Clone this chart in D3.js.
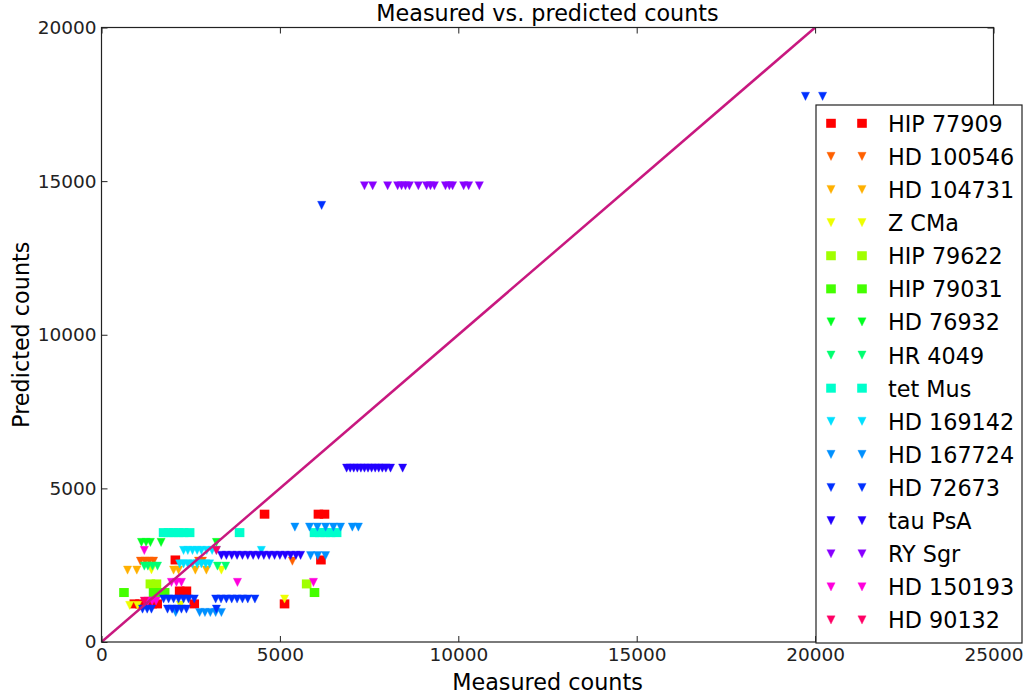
<!DOCTYPE html>
<html>
<head>
<meta charset="utf-8">
<script src="https://cdn.jsdelivr.net/npm/d3@7/dist/d3.min.js"></script>
<style>
  html, body { margin: 0; padding: 0; background: #fff; }
  svg { display: block; font-family: "DejaVu Sans", sans-serif; }
</style>
</head>
<body>
<svg id="chart" width="1033" height="697"></svg>
<script>
// Measured vs. predicted counts per star: [measured, predicted]
const hip77909 = [[4570,4160],[6080,4160],[6250,4160],[2070,2670],[6150,2670],[2190,1660],[2380,1660],
  [920,1240],[1080,1240],[1250,1240],[1420,1240],[1560,1240],[2600,1240],[5130,1240]];
const hd100546 = [[1090,2630],[1220,2630],[1340,2630],[1460,2630],[2720,2630],[2830,2630],[5350,2630]];
const hd104731 = [[730,2340],[990,2340],[2020,2340],[2160,2340],[2630,2340],[2940,2340]];
const zCMa = [[1400,2350],[3360,2340],[790,1190],[1010,1190],[2210,1200],[5130,1400]];
const hip79622 = [[1370,1890],[1540,1890],[5750,1890]];
const hip79031 = [[630,1610],[1460,1610],[1620,1610],[1770,1610],[5970,1610]];
const hd76932 = [[1120,3240],[1250,3240],[1370,3240],[1670,3240],[3220,3240]];
const hr4049 = [[1200,2470],[1300,2470],[1430,2470],[1570,2470],[3250,2470],[3480,2470]];
const tetMus = [[1740,3560],[1880,3560],[2020,3560],[2160,3560],[2300,3560],[2470,3560],[3870,3560],
  [5970,3560],[6120,3560],[6270,3560],[6420,3560],[6590,3560]];
const hd169142 = [[2300,2980],[2420,2980],[2550,2980],[2680,2980],[2800,2980],[2950,2980],[3100,2980],[3220,2980],[4480,2980],
  [2190,2540],[2300,2540],[2420,2540],[2550,2540],[2680,2540],[2800,2540],[2920,2540],[3030,2540]];
const hd167724 = [[5420,3740],[5830,3740],[6050,3740],[6280,3740],[6500,3740],[6700,3740],[7030,3740],[7200,3740],
  [5860,2810],[6060,2810],[6280,2810],
  [2080,960],[2750,960],[2900,960],[3050,960],[3200,960],[3360,960]];
const hd72673 = [[19730,17760],[20210,17760],[6170,14210],
  [1740,1400],[1880,1400],[2020,1400],[2160,1400],[2300,1400],[2440,1400],[2600,1400],
  [3200,1400],[3350,1400],[3500,1400],[3650,1400],[3800,1400],[3950,1400],[4100,1400],[4300,1400],
  [1150,1070],[1280,1070],[1400,1070],[1850,1070],[1980,1070],[2110,1070],[2240,1070],[2380,1070],[3220,1070]];
const tauPsA = [[6870,5660],[6970,5660],[7070,5660],[7170,5660],[7270,5660],[7370,5660],[7470,5660],[7570,5660],
  [7670,5660],[7770,5660],[7870,5660],[7970,5660],[8100,5660],[8440,5660],
  [3360,2820],[3500,2820],[3650,2820],[3800,2820],[3950,2820],[4100,2820],[4250,2820],[4400,2820],
  [4550,2820],[4700,2820],[4850,2820],[5000,2820],[5150,2820],[5300,2820],[5450,2820],[5580,2820]];
const rySgr = [[7370,14850],[7600,14850],[8020,14850],[8300,14850],[8410,14850],[8520,14850],[8630,14850],
  [8880,14850],[9110,14850],[9220,14850],[9330,14850],[9640,14850],[9750,14850],[9840,14850],
  [10150,14850],[10290,14850],[10590,14850]];
const hd150193 = [[1200,2980],[1960,1940],[2100,1940],[2240,1940],[3810,1940],[5940,1940],[1300,1330],[1420,1330],[1530,1330]];
const hd90132 = [[3220,2980],[1200,1330]];

const starNames = ["HIP 77909","HD 100546","HD 104731","Z CMa","HIP 79622","HIP 79031","HD 76932","HR 4049",
  "tet Mus","HD 169142","HD 167724","HD 72673","tau PsA","RY Sgr","HD 150193","HD 90132"];
const starData = [hip77909, hd100546, hd104731, zCMa, hip79622, hip79031, hd76932, hr4049,
  tetMus, hd169142, hd167724, hd72673, tauPsA, rySgr, hd150193, hd90132];
const starMarkers = ["s","v","v","v","s","s","v","v","s","v","v","v","v","v","v","v"];
const starColors = ["#ff0000","#ff6000","#ffb000","#eeff00","#a0ff00","#44ff00","#00ff20","#00ff70",
  "#00ffcc","#00e0ff","#0090ff","#0030ff","#2200ff","#8800ff","#ff00dd","#ff0066"];

const xTicks = [0, 5000, 10000, 15000, 20000, 25000];
const yTicks = [0, 5000, 10000, 15000, 20000];
const oneToOne = [[0, 0], [20000, 20000]];

const svg = d3.select("#chart");
const plotL = 101.5, plotR = 993.5, plotT = 27.5, plotB = 642;

const x = d3.scaleLinear().domain([0, 25000]).range([plotL, plotR]);
const y = d3.scaleLinear().domain([0, 20000]).range([plotB, plotT]);

// clip for marks
svg.append("clipPath").attr("id", "plotClip")
  .append("rect").attr("x", plotL).attr("y", plotT).attr("width", plotR - plotL).attr("height", plotB - plotT);

const sq = 9.6, tri = 4.1;
function drawMarker(g, shape, cx, cy, color) {
  if (shape === "s") {
    g.append("rect").attr("x", cx - sq / 2).attr("y", cy - sq / 2 + 0.3)
      .attr("width", sq).attr("height", sq - 0.6).attr("fill", color);
  } else {
    g.append("path")
      .attr("d", `M${cx - tri},${cy - tri}L${cx + tri},${cy - tri}L${cx},${cy + tri}Z`)
      .attr("fill", color).attr("stroke", color).attr("stroke-width", 0.6).attr("stroke-opacity", 0.6);
  }
}

const marks = svg.append("g").attr("clip-path", "url(#plotClip)");
starData.forEach((pts, i) => {
  const g = marks.append("g");
  pts.forEach(p => drawMarker(g, starMarkers[i], x(p[0]), y(p[1]), starColors[i]));
});

// 1:1 line
marks.append("path")
  .attr("d", d3.line().x(d => x(d[0])).y(d => y(d[1]))(oneToOne))
  .attr("stroke", "#c8187f").attr("stroke-width", 2.5).attr("fill", "none");

// frame
svg.append("rect").attr("x", plotL).attr("y", plotT).attr("width", plotR - plotL).attr("height", plotB - plotT)
  .attr("fill", "none").attr("stroke", "#222").attr("stroke-width", 1.2);

// axes with inward ticks on all sides
const tickLen = 6;
const xAxisB = d3.axisBottom(x).tickValues(xTicks).tickSize(-tickLen).tickPadding(6).tickFormat(d3.format("d"));
const xAxisT = d3.axisTop(x).tickValues(xTicks).tickSize(-tickLen).tickFormat("");
const yAxisL = d3.axisLeft(y).tickValues(yTicks).tickSize(-tickLen).tickPadding(5).tickFormat(d3.format("d"));
const yAxisR = d3.axisRight(y).tickValues(yTicks).tickSize(-tickLen).tickFormat("");

function styleAxis(g) {
  g.select(".domain").remove();
  g.selectAll(".tick line").attr("stroke", "#222");
  g.selectAll(".tick text").attr("fill", "#222").style("font-size", "18.5px").style("font-family", "DejaVu Sans");
}
svg.append("g").attr("transform", `translate(0,${plotB})`).call(xAxisB).call(styleAxis);
svg.append("g").attr("transform", `translate(0,${plotT})`).call(xAxisT).call(styleAxis);
svg.append("g").attr("transform", `translate(${plotL},0)`).call(yAxisL).call(styleAxis);
svg.append("g").attr("transform", `translate(${plotR},0)`).call(yAxisR).call(styleAxis);

// titles
svg.append("text").attr("x", (plotL + plotR) / 2).attr("y", 21).attr("text-anchor", "middle")
  .style("font-size", "22.3px").attr("fill", "#000").text("Measured vs. predicted counts");
svg.append("text").attr("x", (plotL + plotR) / 2).attr("y", 690).attr("text-anchor", "middle")
  .style("font-size", "22.3px").attr("fill", "#000").text("Measured counts");
svg.append("text").attr("transform", `translate(29,${(plotT + plotB) / 2}) rotate(-90)`).attr("text-anchor", "middle")
  .style("font-size", "22.3px").attr("fill", "#000").text("Predicted counts");

// legend
const lg = svg.append("g");
lg.append("rect").attr("x", 816).attr("y", 105).attr("width", 206).attr("height", 538)
  .attr("fill", "#fff").attr("stroke", "#222").attr("stroke-width", 1.2);
starNames.forEach((name, i) => {
  const ry = 123.3 + i * 33.11;
  drawMarker(lg, starMarkers[i], 831, ry, starColors[i]);
  drawMarker(lg, starMarkers[i], 862, ry, starColors[i]);
  lg.append("text").attr("x", 888).attr("y", ry + 8.5).style("font-size", "22.3px").attr("fill", "#000").text(name);
});
</script>
</body>
</html>
